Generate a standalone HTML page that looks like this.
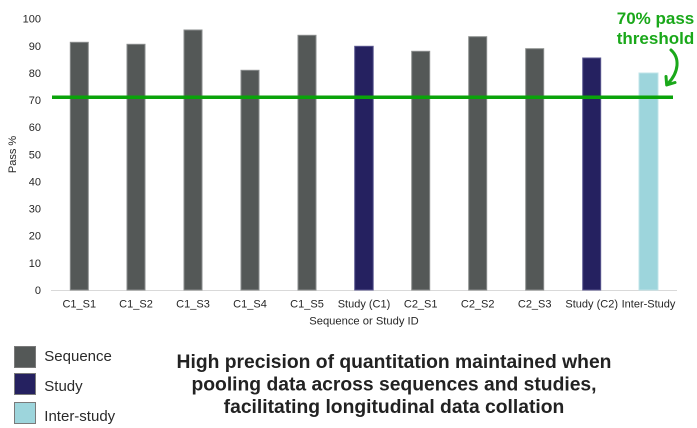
<!DOCTYPE html>
<html>
<head>
<meta charset="utf-8">
<style>
  html,body{margin:0;padding:0;background:#fff;}
  body{width:697px;height:428px;overflow:hidden;}
  svg{display:block;}
  text{font-family:"Liberation Sans",Arial,sans-serif;}
</style>
</head>
<body>
<svg width="697" height="428" viewBox="0 0 697 428" xmlns="http://www.w3.org/2000/svg">
  <!-- y tick labels -->
  <g font-size="11" fill="#262626" text-anchor="end">
    <text x="41" y="294">0</text>
    <text x="41" y="267">10</text>
    <text x="41" y="239.7">20</text>
    <text x="41" y="212.6">30</text>
    <text x="41" y="185.5">40</text>
    <text x="41" y="158.4">50</text>
    <text x="41" y="131.2">60</text>
    <text x="41" y="104.1">70</text>
    <text x="41" y="77">80</text>
    <text x="41" y="49.8">90</text>
    <text x="41" y="22.7">100</text>
  </g>
  <!-- y axis title -->
  <text x="0" y="0" font-size="11" fill="#262626" text-anchor="middle" transform="translate(16,154.5) rotate(-90)">Pass %</text>

  <!-- baseline -->
  <line x1="51" y1="290.5" x2="677" y2="290.5" stroke="#d9d9d9" stroke-width="1"/>

  <!-- bars -->
  <g stroke-width="1">
    <rect x="70.3" y="42.3" width="18" height="247.7" fill="#545857" stroke="#8a8d8c"/>
    <rect x="127" y="44.3" width="18" height="245.7" fill="#545857" stroke="#8a8d8c"/>
    <rect x="184" y="30" width="18" height="260" fill="#545857" stroke="#8a8d8c"/>
    <rect x="241" y="70.3" width="18" height="219.7" fill="#545857" stroke="#8a8d8c"/>
    <rect x="298" y="35.3" width="18" height="254.7" fill="#545857" stroke="#8a8d8c"/>
    <rect x="354.7" y="46.3" width="18.5" height="243.7" fill="#252160" stroke="#5a5790"/>
    <rect x="411.7" y="51.3" width="18" height="238.7" fill="#545857" stroke="#8a8d8c"/>
    <rect x="468.7" y="36.7" width="18" height="253.3" fill="#545857" stroke="#8a8d8c"/>
    <rect x="525.7" y="48.7" width="18" height="241.3" fill="#545857" stroke="#8a8d8c"/>
    <rect x="582.7" y="58" width="18" height="232" fill="#252160" stroke="#5a5790"/>
    <rect x="639" y="73" width="19" height="217" fill="#9dd5dc" stroke="#c0e4e8"/>
  </g>

  <!-- threshold line -->
  <line x1="52" y1="97.3" x2="673" y2="97.3" stroke="#0aa30a" stroke-width="3.5"/>

  <!-- x tick labels -->
  <g font-size="11" fill="#262626" text-anchor="middle">
    <text x="79.3" y="307.3">C1_S1</text>
    <text x="136" y="307.3">C1_S2</text>
    <text x="193" y="307.3">C1_S3</text>
    <text x="250" y="307.3">C1_S4</text>
    <text x="307" y="307.3">C1_S5</text>
    <text x="364" y="307.3">Study (C1)</text>
    <text x="420.7" y="307.3">C2_S1</text>
    <text x="477.7" y="307.3">C2_S2</text>
    <text x="534.7" y="307.3">C2_S3</text>
    <text x="591.7" y="307.3">Study (C2)</text>
    <text x="648.5" y="307.3">Inter-Study</text>
  </g>
  <text x="364" y="324.7" font-size="11.2" fill="#262626" text-anchor="middle">Sequence or Study ID</text>

  <!-- annotation -->
  <g font-size="17" font-weight="bold" fill="#1aa81a" text-anchor="middle">
    <text x="655.5" y="24">70% pass</text>
    <text x="655.5" y="44">threshold</text>
  </g>
  <path d="M671,50 C680,58 679,72 668,83.5" fill="none" stroke="#1aa81a" stroke-width="3" stroke-linecap="round"/>
  <path d="M666,76.5 L666.7,85 L675,82.5" fill="none" stroke="#1aa81a" stroke-width="3" stroke-linecap="round" stroke-linejoin="round"/>

  <!-- legend -->
  <rect x="14.5" y="346.5" width="21" height="21" fill="#545857" stroke="#7a7a7a" stroke-width="1"/>
  <rect x="14.5" y="373.5" width="21" height="21" fill="#252160" stroke="#7a7a7a" stroke-width="1"/>
  <rect x="14.5" y="402.5" width="21" height="21" fill="#9dd5dc" stroke="#7a7a7a" stroke-width="1"/>
  <g font-size="15" fill="#2a2a2a">
    <text x="44.3" y="361">Sequence</text>
    <text x="44.3" y="391">Study</text>
    <text x="44.3" y="421">Inter-study</text>
  </g>

  <!-- title -->
  <g font-size="19.3" font-weight="bold" fill="#222" text-anchor="middle">
    <text x="394" y="368">High precision of quantitation maintained when</text>
    <text x="394" y="390.5">pooling data across sequences and studies,</text>
    <text x="394" y="413">facilitating longitudinal data collation</text>
  </g>
</svg>
</body>
</html>
